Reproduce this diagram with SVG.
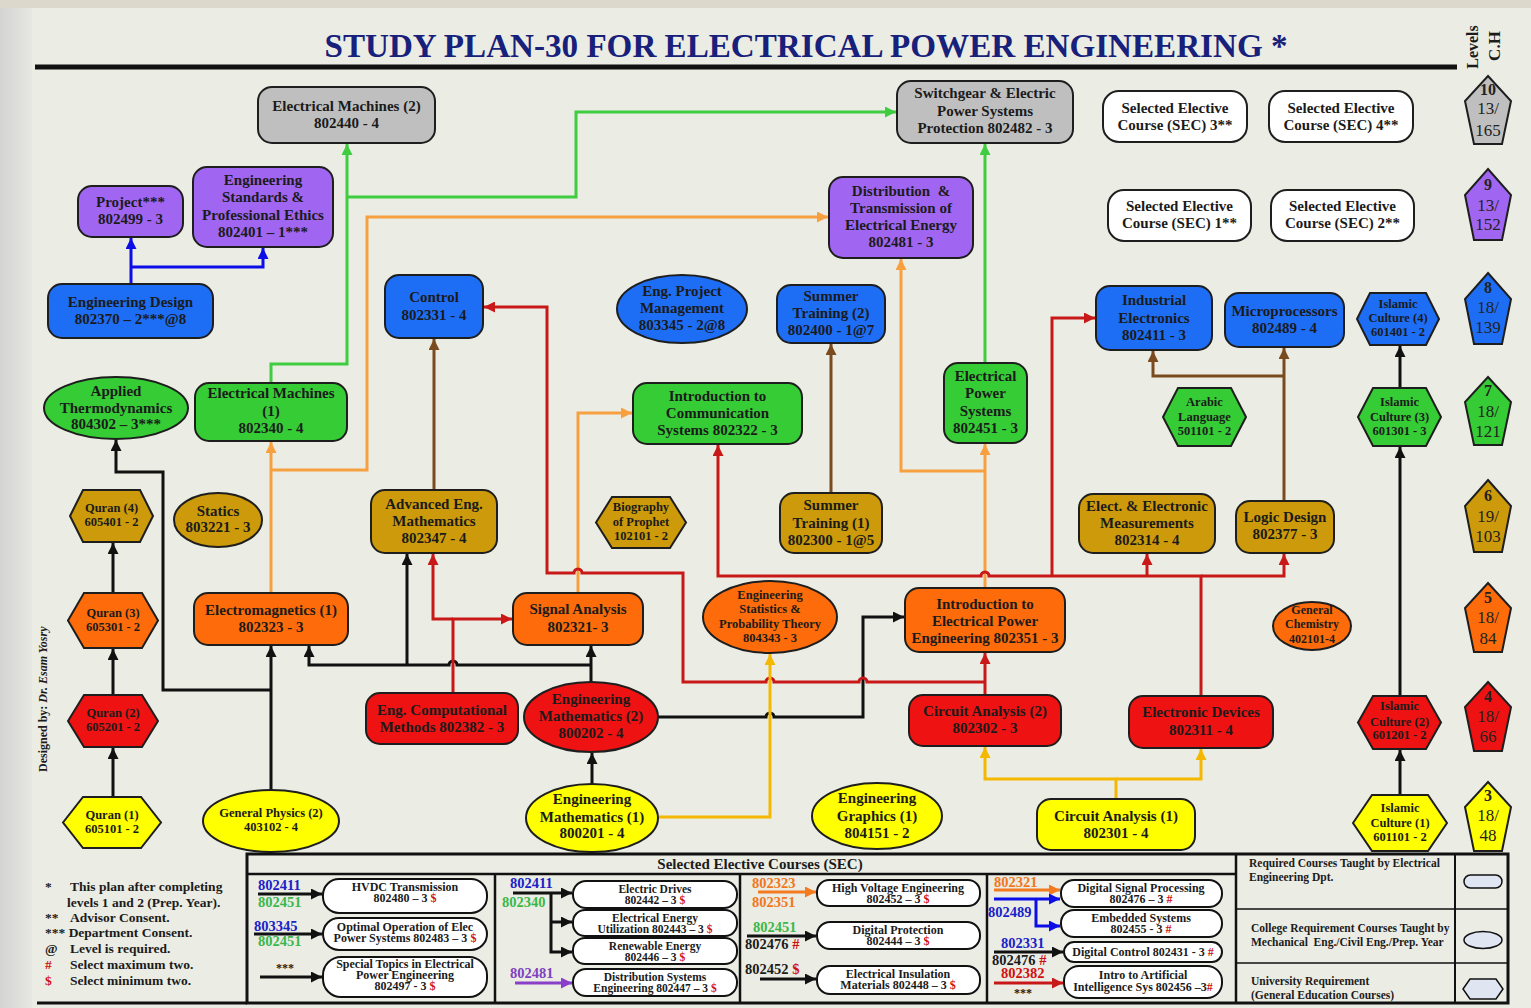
<svg xmlns="http://www.w3.org/2000/svg" width="1531" height="1008" viewBox="0 0 1531 1008">
<defs>
<style>
.t{font-family:"Liberation Serif","Times New Roman",serif;font-weight:bold;font-size:15px;text-anchor:middle;fill:#1b1b1b}
.s{font-size:12.5px}
.xs{font-size:12px}
.x2{font-size:11.5px}
.nd{stroke:#1e1e1e;stroke-width:2}
.gy{fill:#bfbfbf}.pu{fill:#a066f2}.bl{fill:#1d6ef5}.gr{fill:#35cc35}.go{fill:#cc9a0a}.or{fill:#fd6b0a}.rd{fill:#ee1212}.ye{fill:#ffff00}.wh{fill:#fff}
.c{fill:none;stroke-width:3}
.ck{stroke:#111}.cg{stroke:#3fcc3f}.co{stroke:#f7a040}.cb{stroke:#7a4b1f}.cr{stroke:#c81818}.cy{stroke:#f5b800}.cu{stroke:#0d0de8}.cp{stroke:#8a3fc8}.cor{stroke:#f47a20}
.lg{font-family:"Liberation Serif","Times New Roman",serif;font-weight:bold;fill:#1b1b1b}
.code{font-size:14.5px}
.blu{fill:#1a22c8}.grn{fill:#3cb84a}.org{fill:#f07820}.pur{fill:#8040c0}.red{fill:#d01010}
.pill{fill:#fff;stroke:#111;stroke-width:2}
.pn{font-family:"Liberation Serif","Times New Roman",serif;font-size:17px;text-anchor:middle;fill:#222}
.pb{font-weight:bold;font-size:16px}
</style>
<marker id="ak" viewBox="0 0 10 10" refX="10" refY="5" markerWidth="11" markerHeight="11" markerUnits="userSpaceOnUse" orient="auto"><path d="M0,0 L10,5 L0,10 z" fill="#111"/></marker>
<marker id="ag" viewBox="0 0 10 10" refX="10" refY="5" markerWidth="11" markerHeight="11" markerUnits="userSpaceOnUse" orient="auto"><path d="M0,0 L10,5 L0,10 z" fill="#3fcc3f"/></marker>
<marker id="ao" viewBox="0 0 10 10" refX="10" refY="5" markerWidth="11" markerHeight="11" markerUnits="userSpaceOnUse" orient="auto"><path d="M0,0 L10,5 L0,10 z" fill="#f7a040"/></marker>
<marker id="ab" viewBox="0 0 10 10" refX="10" refY="5" markerWidth="11" markerHeight="11" markerUnits="userSpaceOnUse" orient="auto"><path d="M0,0 L10,5 L0,10 z" fill="#7a4b1f"/></marker>
<marker id="ar" viewBox="0 0 10 10" refX="10" refY="5" markerWidth="11" markerHeight="11" markerUnits="userSpaceOnUse" orient="auto"><path d="M0,0 L10,5 L0,10 z" fill="#c81818"/></marker>
<marker id="ay" viewBox="0 0 10 10" refX="10" refY="5" markerWidth="11" markerHeight="11" markerUnits="userSpaceOnUse" orient="auto"><path d="M0,0 L10,5 L0,10 z" fill="#f5b800"/></marker>
<marker id="au" viewBox="0 0 10 10" refX="10" refY="5" markerWidth="11" markerHeight="11" markerUnits="userSpaceOnUse" orient="auto"><path d="M0,0 L10,5 L0,10 z" fill="#0d0de8"/></marker>
<marker id="ap" viewBox="0 0 10 10" refX="10" refY="5" markerWidth="11" markerHeight="11" markerUnits="userSpaceOnUse" orient="auto"><path d="M0,0 L10,5 L0,10 z" fill="#8a3fc8"/></marker>
<marker id="aor" viewBox="0 0 10 10" refX="10" refY="5" markerWidth="11" markerHeight="11" markerUnits="userSpaceOnUse" orient="auto"><path d="M0,0 L10,5 L0,10 z" fill="#f47a20"/></marker>
<linearGradient id="lstrip" x1="0" y1="0" x2="1" y2="0"><stop offset="0" stop-color="#d4d4d2"/><stop offset="1" stop-color="#e6e6e2"/></linearGradient>
</defs>
<rect width="1531" height="1008" fill="#ebece4"/>
<rect x="0" y="0" width="32" height="1008" fill="url(#lstrip)"/>
<rect x="0" y="0" width="1531" height="8" fill="#ddd8cc"/>

<g id="title">
<text x="806" y="57" font-family="Liberation Serif,Times New Roman,serif" font-weight="bold" font-size="33" fill="#17207a" text-anchor="middle" textLength="963" lengthAdjust="spacingAndGlyphs">STUDY PLAN-30 FOR ELECTRICAL POWER ENGINEERING *</text>
<line x1="35" y1="67" x2="1457" y2="67" stroke="#111" stroke-width="5"/>
<text class="lg" font-size="16" text-anchor="middle" transform="translate(1478,47) rotate(-90)">Levels</text>
<text class="lg" font-size="17" text-anchor="middle" transform="translate(1500,46) rotate(-90)">C.H</text>
<text class="lg" font-size="12" transform="translate(47,772) rotate(-90)">Designed by: <tspan font-style="italic">Dr. Esam Yosry</tspan></text>
</g>

<g id="connectors">
<path class="c cu" d="M131,284 V238" marker-end="url(#au)"/>
<path class="c cu" d="M131,267 H263 V248" marker-end="url(#au)"/>
<path class="c cg" d="M271,383 V364 H347 V144" marker-end="url(#ag)"/>
<path class="c cg" d="M347,197 H576 V112 H896" marker-end="url(#ag)"/>
<path class="c cg" d="M985,363 V144" marker-end="url(#ag)"/>
<path class="c co" d="M271,593 V442" marker-end="url(#ao)"/>
<path class="c co" d="M271,470 H367 V217 H828" marker-end="url(#ao)"/>
<path class="c co" d="M578,593 V413 H632" marker-end="url(#ao)"/>
<path class="c co" d="M985,588 V444" marker-end="url(#ao)"/>
<path class="c co" d="M985,471 H901 V259" marker-end="url(#ao)"/>
<path class="c cb" d="M434,490 V339" marker-end="url(#ab)"/>
<path class="c cb" d="M831,493 V344" marker-end="url(#ab)"/>
<path class="c cb" d="M1284,501 V348" marker-end="url(#ab)"/>
<path class="c cb" d="M1284,376 H1153 V351" marker-end="url(#ab)"/>
<path class="c ck" d="M113,797 V748" marker-end="url(#ak)"/>
<path class="c ck" d="M113,695 V649" marker-end="url(#ak)"/>
<path class="c ck" d="M113,593 V543" marker-end="url(#ak)"/>
<path class="c ck" d="M1400,795 V750" marker-end="url(#ak)"/>
<path class="c ck" d="M1400,696 V447" marker-end="url(#ak)"/>
<path class="c ck" d="M1400,388 V346" marker-end="url(#ak)"/>
<path class="c ck" d="M271,790 V646" marker-end="url(#ak)"/>
<path class="c ck" d="M271,690 H163 V472 H116 V440" marker-end="url(#ak)"/>
<path class="c ck" d="M591,682 V646" marker-end="url(#ak)"/>
<path class="c ck" d="M591,665 H457 a4,4 0 0 0 -8,0 H309 V646" marker-end="url(#ak)"/>
<path class="c ck" d="M407,665 V554" marker-end="url(#ak)"/>
<path class="c ck" d="M592,784 V753" marker-end="url(#ak)"/>
<path class="c ck" d="M658,717 H766 a4,4 0 0 1 8,0 H863 V617 H904" marker-end="url(#ak)"/>
<path class="c cr" d="M453,693 V619 H512" marker-end="url(#ar)"/>
<path class="c cr" d="M453,619 H433 V554" marker-end="url(#ar)"/>
<path class="c cr" d="M985,695 V653" marker-end="url(#ar)"/>
<path class="c cr" d="M985,682 H867 a4,4 0 0 0 -8,0 H774 a4,4 0 0 0 -8,0 H683 V573 H582 a4,4 0 0 0 -8,0 H547 V307 H484" marker-end="url(#ar)"/>
<path class="c cr" d="M1201,696 V576 H989 a4,4 0 0 0 -8,0 H718 V445" marker-end="url(#ar)"/>
<path class="c cr" d="M1052,576 V318 H1095" marker-end="url(#ar)"/>
<path class="c cr" d="M1201,576 H1284 V554" marker-end="url(#ar)"/>
<path class="c cr" d="M1147,576 V554" marker-end="url(#ar)"/>
<path class="c cy" d="M659,817 H770 V654" marker-end="url(#ay)"/>
<path class="c cy" d="M1116,799 V779 H985 V747" marker-end="url(#ay)"/>
<path class="c cy" d="M1116,779 H1201 V749" marker-end="url(#ay)"/>
</g>

<g id="n-em2"><rect class="nd gy" x="258" y="87" width="177" height="56" rx="14"/><text class="t" x="346.5" y="111">Electrical Machines (2)</text><text class="t" x="346.5" y="128">802440 - 4</text></g>
<g id="n-switchgear"><rect class="nd gy" x="897" y="81" width="176" height="62" rx="14"/><text class="t" x="985" y="98">Switchgear &amp; Electric</text><text class="t" x="985" y="116">Power Systems</text><text class="t" x="985" y="133">Protection 802482 - 3</text></g>
<g id="n-sec3"><rect class="nd wh" x="1103" y="91" width="144" height="51" rx="16"/><text class="t" x="1175" y="113">Selected Elective</text><text class="t" x="1175" y="130">Course (SEC) 3**</text></g>
<g id="n-sec4"><rect class="nd wh" x="1269" y="91" width="144" height="51" rx="16"/><text class="t" x="1341" y="113">Selected Elective</text><text class="t" x="1341" y="130">Course (SEC) 4**</text></g>
<g id="n-sec1"><rect class="nd wh" x="1108" y="190" width="143" height="51" rx="16"/><text class="t" x="1179.5" y="211">Selected Elective</text><text class="t" x="1179.5" y="228">Course (SEC) 1**</text></g>
<g id="n-sec2"><rect class="nd wh" x="1271" y="190" width="143" height="51" rx="16"/><text class="t" x="1342.5" y="211">Selected Elective</text><text class="t" x="1342.5" y="228">Course (SEC) 2**</text></g>
<g id="n-project"><rect class="nd pu" x="78" y="186" width="105" height="51" rx="14"/><text class="t" x="130.5" y="207">Project***</text><text class="t" x="130.5" y="224">802499 - 3</text></g>
<g id="n-engstd"><rect class="nd pu" x="193" y="167" width="140" height="80" rx="14"/><text class="t" x="263" y="185">Engineering</text><text class="t" x="263" y="202">Standards &amp;</text><text class="t" x="263" y="220">Professional Ethics</text><text class="t" x="263" y="237">802401 – 1***</text></g>
<g id="n-dist"><rect class="nd pu" x="829" y="177" width="144" height="81" rx="14"/><text class="t" x="901" y="196" xml:space="preserve">Distribution  &amp;</text><text class="t" x="901" y="213">Transmission of</text><text class="t" x="901" y="230">Electrical Energy</text><text class="t" x="901" y="247">802481 - 3</text></g>
<g id="n-engdesign"><rect class="nd bl" x="48" y="284" width="165" height="54" rx="14"/><text class="t" x="130.5" y="307">Engineering Design</text><text class="t" x="130.5" y="324">802370 – 2***@8</text></g>
<g id="n-control"><rect class="nd bl" x="385" y="275" width="98" height="63" rx="14"/><text class="t" x="434" y="302">Control</text><text class="t" x="434" y="320">802331 - 4</text></g>
<g id="n-epm"><ellipse class="nd bl" cx="682" cy="309" rx="65" ry="34"/><text class="t" x="682" y="296">Eng. Project</text><text class="t" x="682" y="313">Management</text><text class="t" x="682" y="330">803345 - 2@8</text></g>
<g id="n-st2"><rect class="nd bl" x="777" y="285" width="108" height="58" rx="14"/><text class="t" x="831" y="301">Summer</text><text class="t" x="831" y="318">Training (2)</text><text class="t" x="831" y="335">802400 - 1@7</text></g>
<g id="n-indel"><rect class="nd bl" x="1096" y="286" width="116" height="64" rx="14"/><text class="t" x="1154" y="305">Industrial</text><text class="t" x="1154" y="323">Electronics</text><text class="t" x="1154" y="340">802411 - 3</text></g>
<g id="n-micro"><rect class="nd bl" x="1225" y="293" width="119" height="54" rx="14"/><text class="t" x="1284.5" y="316">Microprocessors</text><text class="t" x="1284.5" y="333">802489 - 4</text></g>
<g id="n-ic4"><polygon class="nd bl" points="1357,319 1370,293 1426,293 1439,319 1426,345 1370,345"/><text class="t s" x="1398" y="308">Islamic</text><text class="t s" x="1398" y="322">Culture (4)</text><text class="t s" x="1398" y="336">601401 - 2</text></g>
<g id="n-thermo"><ellipse class="nd gr" cx="116" cy="408" rx="72" ry="31"/><text class="t" x="116" y="396">Applied</text><text class="t" x="116" y="413">Thermodynamics</text><text class="t" x="116" y="429">804302 – 3***</text></g>
<g id="n-em1"><rect class="nd gr" x="195" y="383" width="152" height="58" rx="14"/><text class="t" x="271" y="398">Electrical Machines</text><text class="t" x="271" y="416">(1)</text><text class="t" x="271" y="433">802340 - 4</text></g>
<g id="n-comm"><rect class="nd gr" x="633" y="383" width="169" height="61" rx="14"/><text class="t" x="717.5" y="401">Introduction to</text><text class="t" x="717.5" y="418">Communication</text><text class="t" x="717.5" y="435">Systems 802322 - 3</text></g>
<g id="n-eps"><rect class="nd gr" x="944" y="363" width="83" height="80" rx="14"/><text class="t" x="985.5" y="381">Electrical</text><text class="t" x="985.5" y="398">Power</text><text class="t" x="985.5" y="416">Systems</text><text class="t" x="985.5" y="433">802451 - 3</text></g>
<g id="n-arabic"><polygon class="nd gr" points="1163,417 1178,388 1231,388 1246,417 1231,446 1178,446"/><text class="t s" x="1204.5" y="406">Arabic</text><text class="t s" x="1204.5" y="421">Language</text><text class="t s" x="1204.5" y="435">501101 - 2</text></g>
<g id="n-ic3"><polygon class="nd gr" points="1358,417 1373,388 1426,388 1441,417 1426,446 1373,446"/><text class="t s" x="1399.5" y="406">Islamic</text><text class="t s" x="1399.5" y="421">Culture (3)</text><text class="t s" x="1399.5" y="435">601301 - 3</text></g>
<g id="n-quran4"><polygon class="nd go" points="70,516 83,490 140,490 153,516 140,542 83,542"/><text class="t s" x="111.5" y="512">Quran (4)</text><text class="t s" x="111.5" y="526">605401 - 2</text></g>
<g id="n-statics"><ellipse class="nd go" cx="218" cy="520" rx="44" ry="27"/><text class="t" x="218" y="516">Statics</text><text class="t" x="218" y="532">803221 - 3</text></g>
<g id="n-advmath"><rect class="nd go" x="371" y="490" width="126" height="63" rx="14"/><text class="t" x="434" y="509">Advanced Eng.</text><text class="t" x="434" y="526">Mathematics</text><text class="t" x="434" y="543">802347 - 4</text></g>
<g id="n-bio"><polygon class="nd go" points="596,522.5 612,497 670,497 686,522.5 670,548 612,548"/><text class="t s" x="641" y="511">Biography</text><text class="t s" x="641" y="526">of Prophet</text><text class="t s" x="641" y="540">102101 - 2</text></g>
<g id="n-st1"><rect class="nd go" x="780" y="493" width="102" height="60" rx="14"/><text class="t" x="831" y="510">Summer</text><text class="t" x="831" y="528">Training (1)</text><text class="t" x="831" y="545">802300 - 1@5</text></g>
<g id="n-meas"><rect class="nd go" x="1079" y="494" width="136" height="59" rx="14"/><text class="t" x="1147" y="511">Elect. &amp; Electronic</text><text class="t" x="1147" y="528">Measurements</text><text class="t" x="1147" y="545">802314 - 4</text></g>
<g id="n-logic"><rect class="nd go" x="1236" y="501" width="98" height="52" rx="14"/><text class="t" x="1285" y="522">Logic Design</text><text class="t" x="1285" y="539">802377 - 3</text></g>
<g id="n-quran3"><polygon class="nd or" points="68,620.5 84,593 142,593 158,620.5 142,648 84,648"/><text class="t s" x="113" y="617">Quran (3)</text><text class="t s" x="113" y="631">605301 - 2</text></g>
<g id="n-emag"><rect class="nd or" x="194" y="593" width="154" height="52" rx="14"/><text class="t" x="271" y="615">Electromagnetics (1)</text><text class="t" x="271" y="632">802323 - 3</text></g>
<g id="n-signal"><rect class="nd or" x="513" y="593" width="130" height="52" rx="14"/><text class="t" x="578" y="614">Signal Analysis</text><text class="t" x="578" y="632">802321- 3</text></g>
<g id="n-stat"><ellipse class="nd or" cx="770" cy="617" rx="67" ry="36"/><text class="t s" x="770" y="599">Engineering</text><text class="t s" x="770" y="613">Statistics &amp;</text><text class="t s" x="770" y="628">Probability Theory</text><text class="t s" x="770" y="642">804343 - 3</text></g>
<g id="n-epe"><rect class="nd or" x="905" y="588" width="160" height="64" rx="14"/><text class="t" x="985" y="609">Introduction to</text><text class="t" x="985" y="626">Electrical Power</text><text class="t" x="985" y="643">Engineering 802351 - 3</text></g>
<g id="n-chem"><ellipse class="nd or" cx="1312" cy="626" rx="39" ry="24"/><text class="t xs" x="1312" y="614">General</text><text class="t xs" x="1312" y="628">Chemistry</text><text class="t xs" x="1312" y="643">402101-4</text></g>
<g id="n-ic2"><polygon class="nd rd" points="1358,722.5 1373,696 1426,696 1441,722.5 1426,749 1373,749"/><text class="t s" x="1399.5" y="710">Islamic</text><text class="t s" x="1399.5" y="726">Culture (2)</text><text class="t s" x="1399.5" y="739">601201 - 2</text></g>
<g id="n-quran2"><polygon class="nd rd" points="68,721 84,695 142,695 158,721 142,747 84,747"/><text class="t s" x="113" y="717">Quran (2)</text><text class="t s" x="113" y="731">605201 - 2</text></g>
<g id="n-comp"><rect class="nd rd" x="366" y="693" width="152" height="51" rx="14"/><text class="t" x="442" y="715">Eng. Computational</text><text class="t" x="442" y="732">Methods 802382 - 3</text></g>
<g id="n-em2m"><ellipse class="nd rd" cx="591" cy="717" rx="67" ry="35"/><text class="t" x="591" y="704">Engineering</text><text class="t" x="591" y="721">Mathematics (2)</text><text class="t" x="591" y="738">800202 - 4</text></g>
<g id="n-ca2"><rect class="nd rd" x="909" y="695" width="152" height="51" rx="14"/><text class="t" x="985" y="716">Circuit Analysis (2)</text><text class="t" x="985" y="733">802302 - 3</text></g>
<g id="n-dev"><rect class="nd rd" x="1129" y="696" width="144" height="52" rx="14"/><text class="t" x="1201" y="717">Electronic Devices</text><text class="t" x="1201" y="735">802311 - 4</text></g>
<g id="n-quran1"><polygon class="nd ye" points="63,822.5 83,797 141,797 161,822.5 141,848 83,848"/><text class="t s" x="112" y="819">Quran (1)</text><text class="t s" x="112" y="833">605101 - 2</text></g>
<g id="n-phys"><ellipse class="nd ye" cx="271" cy="821" rx="68" ry="31"/><text class="t s" x="271" y="817">General Physics (2)</text><text class="t s" x="271" y="831">403102 - 4</text></g>
<g id="n-em1m"><ellipse class="nd ye" cx="592" cy="818" rx="66" ry="34"/><text class="t" x="592" y="804">Engineering</text><text class="t" x="592" y="822">Mathematics (1)</text><text class="t" x="592" y="838">800201 - 4</text></g>
<g id="n-graph"><ellipse class="nd ye" cx="877" cy="816" rx="65" ry="33"/><text class="t" x="877" y="803">Engineering</text><text class="t" x="877" y="821">Graphics (1)</text><text class="t" x="877" y="838">804151 - 2</text></g>
<g id="n-ca1"><rect class="nd ye" x="1037" y="799" width="158" height="51" rx="14"/><text class="t" x="1116" y="821">Circuit Analysis (1)</text><text class="t" x="1116" y="838">802301 - 4</text></g>
<g id="n-ic1"><polygon class="nd ye" points="1353,823 1372,795 1428,795 1447,823 1428,851 1372,851"/><text class="t s" x="1400" y="812">Islamic</text><text class="t s" x="1400" y="827">Culture (1)</text><text class="t s" x="1400" y="841">601101 - 2</text></g>

<g id="levels">
<polygon class="nd gy" points="1488,76 1511,101 1502,144 1474,144 1465,101"/><text class="pn pb" x="1488" y="95">10</text><text class="pn" x="1488" y="114">13/</text><text class="pn" x="1488" y="136">165</text>
<polygon class="nd pu" points="1488,169 1511,195 1502,240 1474,240 1465,195"/><text class="pn pb" x="1488" y="190">9</text><text class="pn" x="1488" y="211">13/</text><text class="pn" x="1488" y="230">152</text>
<polygon class="nd bl" points="1488,273 1511,299 1502,344 1474,344 1465,299"/><text class="pn pb" x="1488" y="293">8</text><text class="pn" x="1488" y="313">18/</text><text class="pn" x="1488" y="333">139</text>
<polygon class="nd gr" points="1488,377 1511,402 1502,445 1474,445 1465,402"/><text class="pn pb" x="1488" y="396">7</text><text class="pn" x="1488" y="417">18/</text><text class="pn" x="1488" y="437">121</text>
<polygon class="nd go" points="1488,480 1511,506 1502,552 1474,552 1465,506"/><text class="pn pb" x="1488" y="501">6</text><text class="pn" x="1488" y="522">19/</text><text class="pn" x="1488" y="542">103</text>
<polygon class="nd or" points="1488,583 1511,608 1502,652 1474,652 1465,608"/><text class="pn pb" x="1488" y="603">5</text><text class="pn" x="1488" y="623">18/</text><text class="pn" x="1488" y="644">84</text>
<polygon class="nd rd" points="1488,682 1511,707 1502,751 1474,751 1465,707"/><text class="pn pb" x="1488" y="702">4</text><text class="pn" x="1488" y="722">18/</text><text class="pn" x="1488" y="742">66</text>
<polygon class="nd ye" points="1488,782 1511,807 1502,851 1474,851 1465,807"/><text class="pn pb" x="1488" y="801">3</text><text class="pn" x="1488" y="821">18/</text><text class="pn" x="1488" y="841">48</text>
</g>

<g id="notes" class="lg" font-size="13.5">
<text x="45" y="891">*</text><text x="70" y="891">This plan after completing</text>
<text x="67" y="907">levels 1 and 2 (Prep. Year).</text>
<text x="45" y="922">**</text><text x="70" y="922">Advisor Consent.</text>
<text x="45" y="937">*** Department Consent.</text>
<text x="45" y="953">@</text><text x="70" y="953">Level is required.</text>
<text x="45" y="969" class="red">#</text><text x="70" y="969">Select maximum two.</text>
<text x="45" y="985" class="red">$</text><text x="70" y="985">Select minimum two.</text>
</g>

<g id="sec-legend">
<rect x="247" y="854" width="1261" height="149" fill="none" stroke="#111" stroke-width="3"/>
<line x1="37" y1="1003" x2="247" y2="1003" stroke="#111" stroke-width="3"/>
<line x1="247" y1="874" x2="1236" y2="874" stroke="#111" stroke-width="2.5"/>
<line x1="495" y1="874" x2="495" y2="1003" stroke="#111" stroke-width="2.5"/>
<line x1="740" y1="874" x2="740" y2="1003" stroke="#111" stroke-width="2.5"/>
<line x1="987" y1="874" x2="987" y2="1003" stroke="#111" stroke-width="2.5"/>
<line x1="1236" y1="854" x2="1236" y2="1003" stroke="#111" stroke-width="2.5"/>
<line x1="1455" y1="854" x2="1455" y2="1003" stroke="#111" stroke-width="2"/>
<line x1="1236" y1="909" x2="1508" y2="909" stroke="#111" stroke-width="1.5"/>
<line x1="1236" y1="963" x2="1508" y2="963" stroke="#111" stroke-width="1.5"/>
<text class="lg" x="760" y="869" font-size="15" text-anchor="middle">Selected Elective Courses (SEC)</text>

<g id="col1">
<text class="lg code blu" x="258" y="890">802411</text><text class="lg code grn" x="258" y="907">802451</text>
<path class="c ck" d="M258,894 H322" marker-end="url(#ak)"/>
<rect class="pill" x="323" y="879" width="164" height="34" rx="16"/>
<text class="t xs" x="405" y="891">HVDC Transmission</text><text class="t xs" x="405" y="902">802480 – 3 <tspan class="red">$</tspan></text>
<text class="lg code blu" x="254" y="931">803345</text><text class="lg code grn" x="258" y="946">802451</text>
<path class="c ck" d="M254,934 H322" marker-end="url(#ak)"/>
<rect class="pill" x="323" y="918" width="164" height="32" rx="16"/>
<text class="t xs" x="405" y="931">Optimal Operation of Elec</text><text class="t xs" x="405" y="942">Power Systems 802483 – 3 <tspan class="red">$</tspan></text>
<text class="lg" x="285" y="972" font-size="12" text-anchor="middle">***</text>
<path class="c ck" d="M260,977 H322" marker-end="url(#ak)"/>
<rect class="pill" x="323" y="957" width="164" height="40" rx="18"/>
<text class="t xs" x="405" y="968">Special Topics in Electrical</text><text class="t xs" x="405" y="979">Power Engineering</text><text class="t xs" x="405" y="990">802497 - 3 <tspan class="red">$</tspan></text>
</g>

<g id="col2">
<text class="lg code blu" x="510" y="888">802411</text><text class="lg code grn" x="502" y="907">802340</text>
<path class="c ck" d="M513,893 H572" marker-end="url(#ak)"/>
<path class="c ck" d="M551,893 V952 H572" marker-end="url(#ak)"/>
<path class="c ck" d="M551,922 H572" marker-end="url(#ak)"/>
<rect class="pill" x="573" y="881" width="164" height="27" rx="13"/>
<text class="t x2" x="655" y="893">Electric Drives</text><text class="t x2" x="655" y="904">802442 – 3 <tspan class="red">$</tspan></text>
<rect class="pill" x="573" y="910" width="164" height="26" rx="12"/>
<text class="t x2" x="655" y="922">Electrical Energy</text><text class="t x2" x="655" y="933">Utilization 802443 – 3 <tspan class="red">$</tspan></text>
<rect class="pill" x="573" y="938" width="164" height="26" rx="12"/>
<text class="t x2" x="655" y="950">Renewable Energy</text><text class="t x2" x="655" y="961">802446 – 3 <tspan class="red">$</tspan></text>
<text class="lg code pur" x="510" y="978">802481</text>
<path class="c cp" d="M515,983 H572" marker-end="url(#ap)"/>
<rect class="pill" x="573" y="969" width="164" height="27" rx="13"/>
<text class="t x2" x="655" y="981">Distribution Systems</text><text class="t x2" x="655" y="992">Engineering 802447 – 3 <tspan class="red">$</tspan></text>
</g>

<g id="col3">
<text class="lg code org" x="752" y="888">802323</text><text class="lg code org" x="752" y="907">802351</text>
<path class="c cor" d="M758,892 H816" marker-end="url(#aor)"/>
<rect class="pill" x="817" y="880" width="163" height="26" rx="12"/>
<text class="t xs" x="898" y="892">High Voltage Engineering</text><text class="t xs" x="898" y="903">802452 – 3 <tspan class="red">$</tspan></text>
<text class="lg code grn" x="753" y="932">802451</text><text class="lg code" x="745" y="949">802476 <tspan class="red">#</tspan></text>
<path class="c ck" d="M747,936 H816" marker-end="url(#ak)"/>
<rect class="pill" x="817" y="922" width="163" height="27" rx="13"/>
<text class="t xs" x="898" y="934">Digital Protection</text><text class="t xs" x="898" y="945">802444 – 3 <tspan class="red">$</tspan></text>
<text class="lg code" x="745" y="974">802452 <tspan class="red">$</tspan></text>
<path class="c ck" d="M760,979 H816" marker-end="url(#ak)"/>
<rect class="pill" x="817" y="966" width="163" height="28" rx="13"/>
<text class="t xs" x="898" y="978">Electrical Insulation</text><text class="t xs" x="898" y="989">Materials 802448 – 3 <tspan class="red">$</tspan></text>
</g>

<g id="col4">
<text class="lg code org" x="994" y="887">802321</text>
<path class="c cor" d="M994,890 H1060" marker-end="url(#aor)"/>
<path class="c cu" d="M994,899 H1060" marker-end="url(#au)"/>
<path class="c cu" d="M1036,899 V926 H1060" marker-end="url(#au)"/>
<text class="lg code blu" x="988" y="917">802489</text>
<rect class="pill" x="1061" y="880" width="161" height="27" rx="13"/>
<text class="t xs" x="1141" y="892">Digital Signal Processing</text><text class="t xs" x="1141" y="903">802476 – 3 <tspan class="red">#</tspan></text>
<rect class="pill" x="1061" y="910" width="161" height="27" rx="13"/>
<text class="t xs" x="1141" y="922">Embedded Systems</text><text class="t xs" x="1141" y="933">802455 - 3 <tspan class="red">#</tspan></text>
<text class="lg code blu" x="1001" y="948">802331</text>
<path class="c ck" d="M994,952 H1063" marker-end="url(#ak)"/>
<text class="lg code" x="992" y="965">802476 <tspan class="red">#</tspan></text>
<rect class="pill" x="1064" y="942" width="158" height="20" rx="10"/>
<text class="t xs" x="1143" y="956">Digital Control 802431 - 3 <tspan class="red">#</tspan></text>
<text class="lg code red" x="1001" y="978">802382</text>
<path class="c cr" d="M994,983 H1063" marker-end="url(#ar)"/>
<text class="lg" x="1023" y="997" font-size="12" text-anchor="middle" fill="#444">***</text>
<rect class="pill" x="1064" y="966" width="158" height="32" rx="15"/>
<text class="t xs" x="1143" y="979">Intro to Artificial</text><text class="t xs" x="1143" y="991">Intelligence Sys 802456 –3<tspan class="red">#</tspan></text>
</g>

<g id="type-legend" class="lg" font-size="11.5">
<text x="1249" y="867">Required Courses Taught by Electrical</text>
<text x="1249" y="881">Engineering Dpt.</text>
<rect x="1464" y="875" width="38" height="13" rx="6.5" fill="#dfe6f2" stroke="#111" stroke-width="1.5"/>
<text x="1251" y="932">College Requirement Courses Taught by</text>
<text x="1251" y="946" xml:space="preserve">Mechanical  Eng./Civil Eng./Prep. Year</text>
<ellipse cx="1483" cy="940" rx="19" ry="8.5" fill="#dfe6f2" stroke="#111" stroke-width="1.5"/>
<text x="1251" y="985">University Requirement</text>
<text x="1251" y="999">(General Education Courses)</text>
<polygon points="1463,989 1470,979 1496,979 1503,989 1496,999 1470,999" fill="#dfe6f2" stroke="#111" stroke-width="1.5"/>
</g>
</g>
</svg>
